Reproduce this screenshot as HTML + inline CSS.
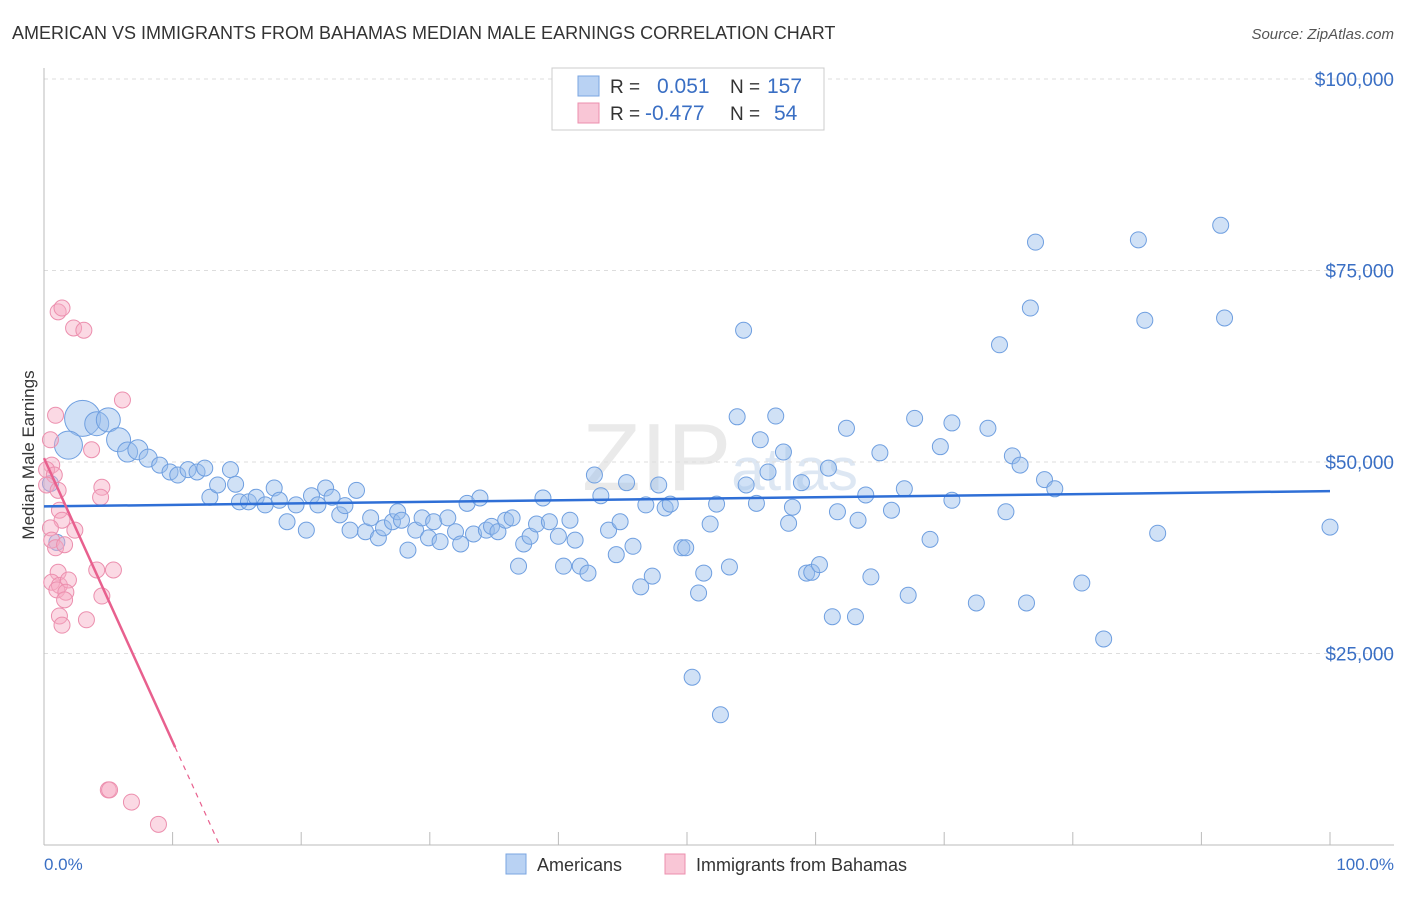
<!DOCTYPE html>
<html><head><meta charset="utf-8"><style>
body{margin:0;background:#fff;font-family:"Liberation Sans",sans-serif}
svg text{font-family:"Liberation Sans",sans-serif}
</style></head><body>
<svg id="chart" width="1406" height="892" xmlns="http://www.w3.org/2000/svg">
<text x="12" y="39" font-size="18" fill="#333">AMERICAN VS IMMIGRANTS FROM BAHAMAS MEDIAN MALE EARNINGS CORRELATION CHART</text>
<text x="1394" y="39" font-size="15" fill="#555" text-anchor="end" font-style="italic">Source: ZipAtlas.com</text>
<text x="720" y="490" font-size="96" fill="#ddd" text-anchor="middle" font-family="Liberation Serif" opacity="0.6">ZIP<tspan font-size="60" fill="#c8d8ec" font-family="Liberation Sans">atlas</tspan></text>
<g id="grid"></g>
<g id="axes"></g>
<g id="pts"></g>
<g id="trend"></g>
<text transform="translate(34,455) rotate(-90)" font-size="17" fill="#333" text-anchor="middle">Median Male Earnings</text>
<text x="44" y="870" font-size="17" fill="#3a6fc4">0.0%</text>
<text x="1394" y="870" font-size="17" fill="#3a6fc4" text-anchor="end">100.0%</text>
<g>
<rect x="552" y="68" width="272" height="62" fill="#fff" stroke="#ccc"/>
<rect x="578" y="76" width="21" height="20" fill="#b9d2f3" stroke="#7aa5e0"/>
<rect x="578" y="103" width="21" height="20" fill="#f9c6d6" stroke="#ec8fae"/>
<text x="610" y="93" font-size="19" fill="#333">R =</text>
<text x="657" y="93" font-size="21" fill="#3a6fc4">0.051</text>
<text x="730" y="93" font-size="19" fill="#333">N =</text>
<text x="767" y="93" font-size="21" fill="#3a6fc4">157</text>
<text x="610" y="120" font-size="19" fill="#333">R =</text>
<text x="645" y="120" font-size="21" fill="#3a6fc4">-0.477</text>
<text x="730" y="120" font-size="19" fill="#333">N =</text>
<text x="774" y="120" font-size="21" fill="#3a6fc4">54</text>
</g>
<g>
<rect x="506" y="854" width="20" height="20" fill="#b9d2f3" stroke="#7aa5e0"/>
<text x="537" y="871" font-size="18" fill="#333">Americans</text>
<rect x="665" y="854" width="20" height="20" fill="#f9c6d6" stroke="#ec8fae"/>
<text x="696" y="871" font-size="18" fill="#333">Immigrants from Bahamas</text>
</g>
</svg>
<script>
const yTicks=[25000,50000,75000,100000];
const yTickLabels=["$25,000","$50,000","$75,000","$100,000"];
const blueX=[3.0,1.9,4.1,5.0,5.8,6.5,7.3,8.1,9.0,9.8,10.4,11.2,11.9,12.5,12.9,13.5,14.5,14.9,15.2,15.9,16.5,17.2,17.9,18.3,18.9,19.6,20.4,20.8,21.3,21.9,22.4,23.0,23.4,23.8,24.3,25.0,25.4,26.0,26.4,27.1,27.5,27.8,28.3,28.9,29.4,29.9,30.3,30.8,31.4,32.0,32.4,32.9,33.4,33.9,34.4,34.8,35.3,35.9,36.4,36.9,37.3,37.8,38.3,38.8,39.3,40.0,40.4,40.9,41.3,41.7,42.3,42.8,43.3,43.9,44.5,44.8,45.3,45.8,46.4,46.8,47.3,47.8,48.3,48.7,49.6,49.9,50.4,50.9,51.3,51.8,52.3,52.6,53.3,53.9,54.4,54.6,55.4,55.7,56.3,56.9,57.5,57.9,58.2,58.9,59.3,59.7,60.3,61.0,61.3,61.7,62.4,63.1,63.3,63.9,64.3,65.0,65.9,66.9,67.2,67.7,68.9,69.7,70.6,70.6,72.5,73.4,74.3,74.8,75.3,75.9,76.7,77.1,76.4,77.8,78.6,80.7,82.4,85.1,85.6,86.6,91.5,91.8,100,0.5,1.0];
const blueY=[55.7,52.2,55.0,55.5,52.9,51.3,51.6,50.5,49.6,48.7,48.3,49.0,48.7,49.2,45.4,47.0,49.0,47.1,44.8,44.8,45.4,44.4,46.6,45.0,42.2,44.4,41.1,45.6,44.4,46.6,45.4,43.1,44.3,41.1,46.3,40.9,42.7,40.1,41.4,42.2,43.5,42.4,38.5,41.1,42.7,40.1,42.2,39.6,42.7,40.9,39.3,44.6,40.6,45.3,41.1,41.6,40.9,42.4,42.7,36.4,39.3,40.3,41.9,45.3,42.2,40.3,36.4,42.4,39.8,36.4,35.5,48.3,45.6,41.1,37.9,42.2,47.3,39.0,33.7,44.4,35.1,47.0,44.0,44.5,38.8,38.8,21.9,32.9,35.5,41.9,44.5,17.0,36.3,55.9,67.2,47.0,44.6,52.9,48.7,56.0,51.3,42.0,44.1,47.3,35.5,35.6,36.6,49.2,29.8,43.5,54.4,29.8,42.4,45.7,35.0,51.2,43.7,46.5,32.6,55.7,39.9,52.0,55.1,45.0,31.6,54.4,65.3,43.5,50.8,49.6,70.1,78.7,31.6,47.7,46.5,34.2,26.9,79.0,68.5,40.7,80.9,68.8,41.5,47.2,39.5];
const blueR=[18,14,12,12,12,10,10,9,8,8,8,8,8,8];
const pinkX=[1.1,1.4,2.3,3.1,6.1,0.9,3.7,0.5,0.6,0.2,0.8,0.2,1.1,4.5,4.4,1.2,1.4,2.4,0.5,0.6,0.9,1.6,4.1,5.4,1.1,0.6,1.2,1.9,1.0,1.7,1.6,4.5,1.2,3.3,1.4,5.0,5.1,6.8,8.9];
const pinkY=[69.6,70.1,67.5,67.2,58.1,56.1,51.6,52.9,49.6,49.0,48.3,47.0,46.3,46.7,45.4,43.7,42.4,41.1,41.4,39.8,38.8,39.2,35.9,35.9,35.6,34.3,33.9,34.6,33.3,33.0,32.0,32.5,29.9,29.4,28.7,7.2,7.2,5.6,2.7];
const blueTrend=[44.2,46.2];
const pinkTrend=[50.5,-3.7];
const NS="http://www.w3.org/2000/svg";
const X=p=>44+p*12.86;
const Y=v=>845-v*0.00766;
const Yk=k=>Y(k*1000);
function mk(tag,at,parent){const e=document.createElementNS(NS,tag);for(const k in at)e.setAttribute(k,at[k]);document.getElementById(parent).appendChild(e);return e;}
yTicks.forEach((t,i)=>{
 const l=mk('line',{x1:44,x2:1394,y1:Y(t),y2:Y(t),stroke:'#ddd','stroke-dasharray':'4,4'},'grid');
 
 
 const tx=mk('text',{x:1394,y:Y(t)+7,'font-size':19,fill:'#3a6fc4','text-anchor':'end'},'grid');
 tx.textContent=yTickLabels[i];
 
 
});
let ax=mk('line',{x1:44,x2:44,y1:68,y2:845,stroke:'#bbb'},'axes');


ax=mk('line',{x1:44,x2:1394,y1:845,y2:845,stroke:'#bbb'},'axes');


for(let p=0;p<=100;p+=10){
 const t=mk('line',{x1:X(p),x2:X(p),y1:832,y2:845,stroke:'#bbb'},'axes');
 
 
}
blueX.forEach((x,i)=>{
 const c=mk('circle',{cx:X(x),cy:Yk(blueY[i]),r:blueR[i]||8,fill:'rgba(150,188,236,0.45)',stroke:'#6f9fe0','stroke-width':1},'pts');
 
 
});
pinkX.forEach((x,i)=>{
 const c=mk('circle',{cx:X(x),cy:Yk(pinkY[i]),r:8,fill:'rgba(246,170,196,0.45)',stroke:'#ec8fae','stroke-width':1},'pts');
 
 
});
let tl=mk('line',{x1:X(0),x2:X(100),y1:Yk(blueTrend[0]),y2:Yk(blueTrend[1]),stroke:'#2f6fd6','stroke-width':2.5},'trend');


const pf=p=>pinkTrend[0]+pinkTrend[1]*p;
const pz=-pinkTrend[0]/pinkTrend[1];
tl=mk('line',{x1:X(0),x2:X(10.2),y1:Yk(pf(0)),y2:Yk(pf(10.2)),stroke:'#e8608e','stroke-width':2.5},'trend');


tl=mk('line',{x1:X(10.2),x2:X(pz),y1:Yk(pf(10.2)),y2:Yk(pf(pz)),stroke:'#e8608e','stroke-width':1.2,'stroke-dasharray':'5,5'},'trend');


</script>
</body></html>
